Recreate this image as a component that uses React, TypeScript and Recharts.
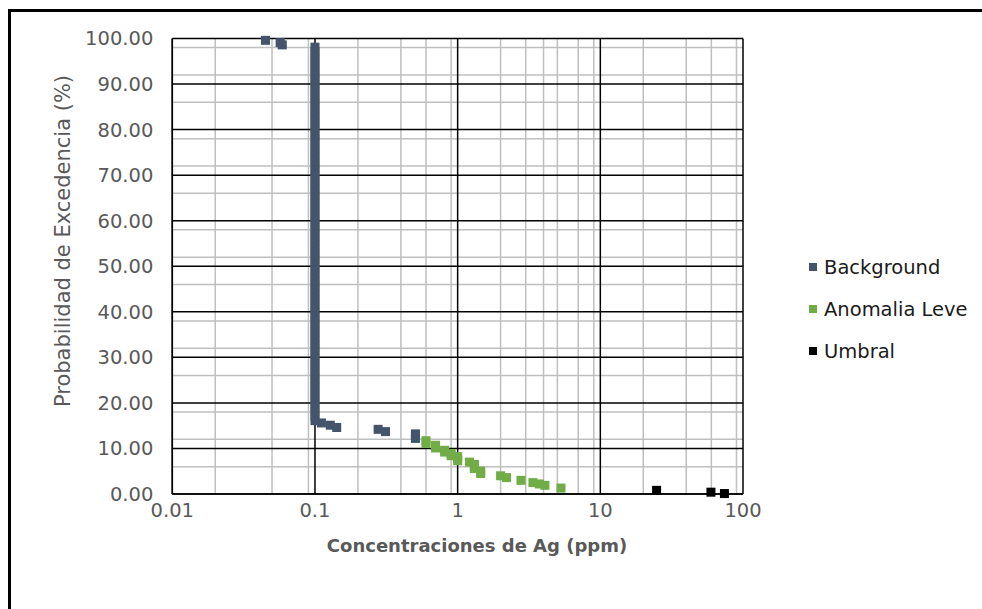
import React from 'react';
import { ScatterChart, Scatter, XAxis, YAxis, CartesianGrid } from 'recharts';

const seriesNames = ['Background', 'Anomalia Leve', 'Umbral'];
const seriesColors = ['#44546A', '#70AD47', '#000000'];

const xTicks = [0.01, 0.1, 1, 10, 100];
const xTickLabels = ['0.01', '0.1', '1', '10', '100'];
const yTicks = [0, 10, 20, 30, 40, 50, 60, 70, 80, 90, 100];
const xMinor = [
  0.02, 0.03, 0.04, 0.05, 0.06, 0.07, 0.08, 0.09,
  0.2, 0.3, 0.4, 0.5, 0.6, 0.7, 0.8, 0.9,
  2, 3, 4, 5, 6, 7, 8, 9,
  20, 30, 40, 50, 60, 70, 80, 90,
];
const yMinor = [
  2, 4, 6, 8, 12, 14, 16, 18, 22, 24, 26, 28, 32, 34, 36, 38, 42, 44, 46, 48,
  52, 54, 56, 58, 62, 64, 66, 68, 72, 74, 76, 78, 82, 84, 86, 88, 92, 94, 96, 98,
];

// Background (ppm, % exceedance)
const backgroundConc = [
  0.045, 0.057, 0.059,
  0.1, 0.1, 0.1, 0.1, 0.1, 0.1, 0.1, 0.1, 0.1, 0.1,
  0.1, 0.1, 0.1, 0.1, 0.1, 0.1, 0.1, 0.1, 0.1, 0.1,
  0.1, 0.1, 0.1, 0.1, 0.1, 0.1, 0.1, 0.1, 0.1, 0.1,
  0.1, 0.1, 0.1, 0.1, 0.1, 0.1, 0.1, 0.1, 0.1, 0.1,
  0.1, 0.1, 0.1, 0.1, 0.1, 0.1, 0.1, 0.1, 0.1, 0.1,
  0.1, 0.1, 0.1, 0.1, 0.1, 0.1, 0.1, 0.1, 0.1, 0.1,
  0.1, 0.1, 0.1, 0.1, 0.1, 0.1, 0.1, 0.1, 0.1, 0.1,
  0.1, 0.1, 0.1, 0.1, 0.1, 0.1, 0.1, 0.1, 0.1, 0.1,
  0.1, 0.1, 0.1,
  0.111, 0.128, 0.142, 0.277, 0.312, 0.506, 0.506, 0.506,
];
const backgroundProb = [
  99.6, 99.1, 98.6,
  98.1, 97.1, 96.1, 95.1, 94.1, 93.1, 92.1, 91.1, 90.1, 89.1,
  88.1, 87.1, 86.1, 85.1, 84.1, 83.1, 82.1, 81.1, 80.1, 79.1,
  78.1, 77.1, 76.1, 75.1, 74.1, 73.1, 72.1, 71.1, 70.1, 69.1,
  68.1, 67.1, 66.1, 65.1, 64.1, 63.1, 62.1, 61.1, 60.1, 59.1,
  58.1, 57.1, 56.1, 55.1, 54.1, 53.1, 52.1, 51.1, 50.1, 49.1,
  48.1, 47.1, 46.1, 45.1, 44.1, 43.1, 42.1, 41.1, 40.1, 39.1,
  38.1, 37.1, 36.1, 35.1, 34.1, 33.1, 32.1, 31.1, 30.1, 29.1,
  28.1, 27.1, 26.1, 25.1, 24.1, 23.1, 22.1, 21.1, 20.1, 19.1,
  18.1, 17.1, 16.1,
  15.6, 15.1, 14.6, 14.2, 13.7, 13.2, 12.7, 12.2,
];

// Anomalia Leve
const anomaliaConc = [
  0.6, 0.6, 0.7, 0.7, 0.81, 0.81, 0.9, 0.9, 1.0, 1.0, 1.0,
  1.21, 1.31, 1.31, 1.31, 1.45, 1.45, 2.0, 2.2, 2.78, 3.37, 3.74, 4.09, 5.3,
];
const anomaliaProb = [
  11.7, 11.1, 10.7, 10.1, 9.6, 9.2, 8.9, 8.4, 8.2, 7.8, 7.3,
  7.0, 6.5, 6.0, 5.6, 5.0, 4.5, 4.0, 3.6, 3.0, 2.5, 2.2, 1.9, 1.3,
];

// Umbral
const umbralConc = [24.8, 59.6, 74.1];
const umbralProb = [0.8, 0.4, 0.1];

const zip = (xs: number[], ys: number[]) => xs.map((x, i) => ({ x, y: ys[i] }));
const seriesData = [
  zip(backgroundConc, backgroundProb),
  zip(anomaliaConc, anomaliaProb),
  zip(umbralConc, umbralProb),
];

const FONT = 'DejaVu Sans, sans-serif';
const TEXT = '#595959';

const square = (color: string) => (props: any) => {
  const { cx, cy } = props;
  if (cx == null || cy == null) return <g />;
  return <rect x={cx - 4.5} y={cy - 4.5} width={9} height={9} fill={color} />;
};

export default function App() {
  return (
    <div style={{ position: 'absolute', left: 0, top: 0, width: 982, height: 609, background: '#fff', overflow: 'hidden' }}>
      <div style={{ position: 'absolute', left: 0, top: 0 }}>
        <ScatterChart
          width={982}
          height={609}
          margin={{ top: 38.5, right: 239, bottom: 85, left: 72.3 }}
        >
          <CartesianGrid
            stroke="#BFBFBF"
            strokeWidth={1.5}
            horizontalValues={yMinor}
            verticalValues={xMinor}
          />
          <CartesianGrid
            stroke="#000000"
            strokeWidth={1.5}
            horizontalValues={yTicks}
            verticalValues={xTicks}
          />
          <XAxis
            dataKey="x"
            type="number"
            scale="log"
            domain={[0.01, 100]}
            ticks={xTicks}
            allowDataOverflow
            height={30}
            tickLine={false}
            axisLine={{ stroke: '#000', strokeWidth: 1.5 }}
            tick={{ fill: TEXT, fontSize: 19.5, fontFamily: FONT }}
            tickFormatter={(v: number) => xTickLabels[xTicks.indexOf(v)] ?? String(v)}
            tickMargin={3}
          />
          <YAxis
            dataKey="y"
            type="number"
            domain={[0, 100]}
            ticks={yTicks}
            width={100}
            tickLine={false}
            axisLine={{ stroke: '#000', strokeWidth: 1.5 }}
            tick={{ fill: TEXT, fontSize: 19.5, fontFamily: FONT }}
            tickFormatter={(v: number) => v.toFixed(2)}
            tickMargin={13}
          />
          {seriesData.map((d, i) => (
            <Scatter
              key={seriesNames[i]}
              name={seriesNames[i]}
              data={d}
              fill={seriesColors[i]}
              shape={square(seriesColors[i])}
              isAnimationActive={false}
            />
          ))}
        </ScatterChart>
      </div>
      <svg width={982} height={609} style={{ position: 'absolute', left: 0, top: 0, pointerEvents: 'none' }}>
        <path d="M 9.5 700 L 9.5 10.5 L 1000 10.5" fill="none" stroke="#000" strokeWidth={3} />
        <text
          x={477}
          y={545}
          textAnchor="middle"
          dominantBaseline="central"
          fontFamily={FONT}
          fontWeight="bold"
          fontSize={18}
          fill={TEXT}
        >
          Concentraciones de Ag (ppm)
        </text>
        <text
          transform="translate(63 241) rotate(-90)"
          textAnchor="middle"
          dominantBaseline="central"
          fontFamily={FONT}
          fontSize={21}
          fill={TEXT}
        >
          Probabilidad de Excedencia (%)
        </text>
        {seriesNames.map((n, i) => (
          <g key={n}>
            <rect x={809} y={263 + i * 42} width={8} height={8} fill={seriesColors[i]} />
            <text
              x={824}
              y={267 + i * 42}
              dominantBaseline="central"
              fontFamily={FONT}
              fontSize={19.5}
              fill={'#1a1a1a'}
            >
              {n}
            </text>
          </g>
        ))}
      </svg>
    </div>
  );
}
